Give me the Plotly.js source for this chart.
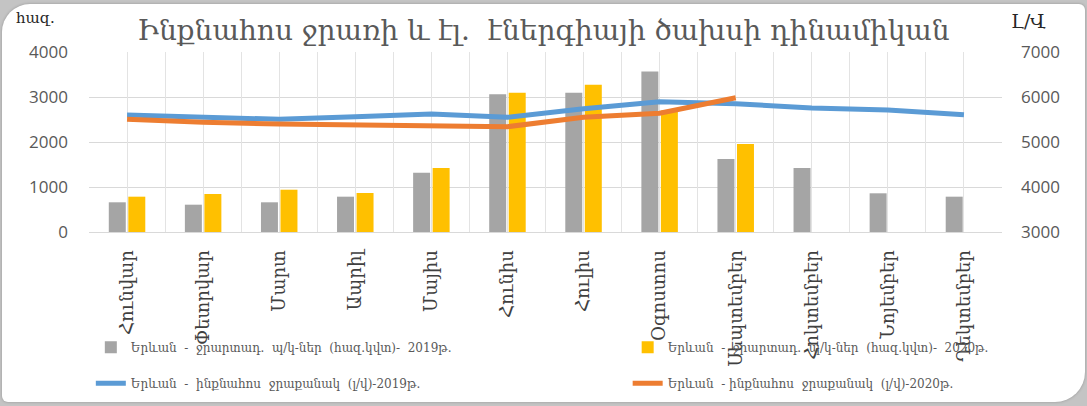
<!DOCTYPE html>
<html>
<head>
<meta charset="utf-8">
<script src="https://cdn.plot.ly/plotly-3.0.1.min.js"></script>
<style>
  html, body { margin: 0; padding: 0; width: 1087px; height: 406px; overflow: hidden; background: #c4c4c4; }
  #card { position: absolute; left: 2px; top: 4px; width: 1083px; height: 398px; background: #ffffff; border-radius: 28px 6px 30px 6px; box-shadow: 0 0 3px rgba(0,0,0,0.25); }
  #chart { position: absolute; left: 0; top: 0; width: 1087px; height: 406px; }
</style>
</head>
<body>
<div id="card"></div>
<div id="chart"></div>
<script>
// ---- data ----
const months = ["Հունվար", "Փետրվար", "Մարտ", "Ապրիլ", "Մայիս", "Հունիս", "Հուլիս", "Օգոստոս", "Սեպտեմբեր", "Հոկտեմբեր", "Նոյեմբեր", "Դեկտեմբեր"];
const power2019 = [660, 607, 660, 785, 1318, 3060, 3096, 3564, 1620, 1422, 860, 785];
const power2020 = [785, 845, 940, 867, 1422, 3096, 3274, 2700, 1956, null, null, null];
const flow2019 = [5600, 5549, 5504, 5562, 5622, 5549, 5740, 5896, 5850, 5756, 5711, 5607];
const flow2020 = [5504, 5438, 5400, 5378, 5378, 5340, 5549, 5638, 5984, null, null, null];

const nameP19 = "Երևան  -  ջրարտադ.  պ/կ-ներ  (հազ.կվտ)-  2019թ.";
const nameP20 = "Երևան  -  ջրարտադ.  պ/կ-ներ  (հազ.կվտ)-  2020թ.";
const nameF19 = "Երևան  -  ինքնահոս  ջրաքանակ  (լ/վ)-2019թ.";
const nameF20 = "Երևան  - ինքնահոս  ջրաքանակ  (լ/վ)-2020թ.";
const titleText = "Ինքնահոս ջրառի և էլ.  էներգիայի ծախսի դինամիկան";

const serif = "DejaVu Serif, serif";
const sans = "Open Sans, Liberation Sans, sans-serif";
const txt = "#595959";

const traces = [
  { type: "scatter", x: [null], y: [null], xaxis: "x2", yaxis: "y", showlegend: false, hoverinfo: "skip" },
  { type: "bar", x: months, y: power2019, name: nameP19, marker: { color: "#a5a5a5" }, yaxis: "y", xaxis: "x", legend: "legend", legendgroup: "a", legendrank: 1 },
  { type: "bar", x: months, y: power2020, name: nameP20, marker: { color: "#ffc000" }, yaxis: "y", xaxis: "x", legend: "legend2", legendgroup: "c", legendrank: 1 },
  { type: "scatter", mode: "lines", x: months, y: flow2019, name: nameF19, line: { color: "#5b9bd5", width: 5 }, yaxis: "y2", xaxis: "x", legend: "legend", legendgroup: "b", legendrank: 2 },
  { type: "scatter", mode: "lines", x: months, y: flow2020, name: nameF20, line: { color: "#ed7d31", width: 5 }, yaxis: "y2", xaxis: "x", legend: "legend2", legendgroup: "d", legendrank: 2 }
];

const legendBase = {
  orientation: "v", xanchor: "left", y: -0.56, yanchor: "top",
  font: { family: serif, size: 12, color: txt },
  bgcolor: "rgba(0,0,0,0)", tracegroupgap: 17, itemwidth: 30, traceorder: "grouped"
};

const layout = {
  width: 1087, height: 406,
  margin: { l: 89, r: 85, t: 52, b: 174, autoexpand: false },
  paper_bgcolor: "rgba(0,0,0,0)",
  plot_bgcolor: "rgba(0,0,0,0)",
  showlegend: true,
  barmode: "group",
  bargap: 0.487,
  bargroupgap: 0.13,
  title: { text: titleText, font: { family: serif, size: 28, color: txt }, x: 0.5, xanchor: "center", y: 0.925, yanchor: "middle" },
  xaxis: {
    type: "category", showgrid: false, zeroline: false,
    showline: true, linecolor: "#d9d9d9", linewidth: 1,
    tickangle: -90, ticks: "", ticklabelstandoff: 10,
    tickfont: { family: serif, size: 18, color: "#404040" }
  },
  xaxis2: {
    overlaying: "x", range: [-0.5, 11.5], dtick: 0.5, tick0: -0.5,
    showgrid: true, gridcolor: "#e3e3e3", gridwidth: 1,
    showticklabels: false, ticks: "", zeroline: false, showline: false
  },
  yaxis: {
    range: [0, 4000], dtick: 1000, showgrid: true, gridcolor: "#d9d9d9", gridwidth: 1,
    zeroline: false, ticks: "", ticklabelstandoff: 20,
    tickfont: { family: sans, size: 17, color: txt }
  },
  yaxis2: {
    overlaying: "y", side: "right", range: [3000, 7000], dtick: 1000, showgrid: false,
    zeroline: false, ticks: "", ticklabelstandoff: 18,
    tickfont: { family: sans, size: 17, color: txt }
  },
  legend: Object.assign({}, legendBase, { x: 0.002 }),
  legend2: Object.assign({}, legendBase, { x: 0.59 }),
  annotations: [
    { text: "հազ.", xref: "paper", yref: "paper", x: -0.082, y: 1.19, xanchor: "left", yanchor: "middle", showarrow: false, font: { family: serif, size: 15, color: "#262626" } },
    { text: "Լ/Վ", xref: "paper", yref: "paper", x: 1.008, y: 1.17, xanchor: "left", yanchor: "middle", showarrow: false, font: { family: serif, size: 19, color: "#262626" } }
  ]
};

Plotly.newPlot("chart", traces, layout, { displayModeBar: false, staticPlot: true });
</script>
</body>
</html>
